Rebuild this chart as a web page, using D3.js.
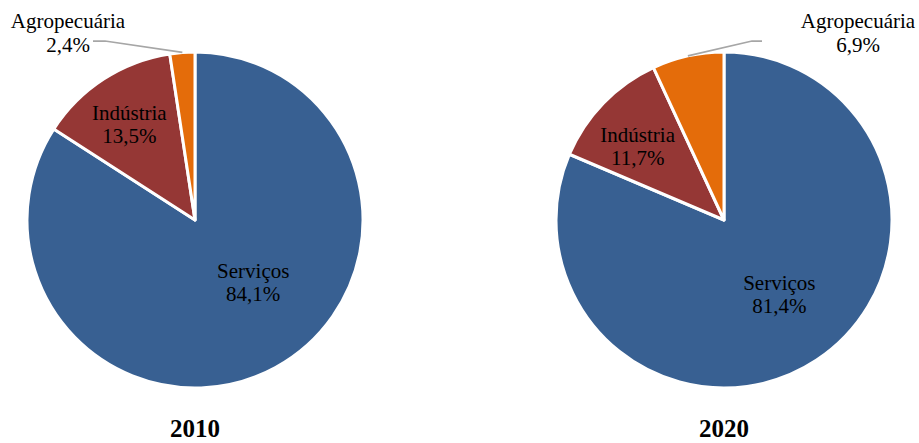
<!DOCTYPE html>
<html><head><meta charset="utf-8">
<script src="https://cdn.jsdelivr.net/npm/d3@7"></script>
<style>
html,body{margin:0;padding:0;background:#fff;}
svg{display:block;}
text{font-family:'Liberation Serif','Times New Roman',Times,'DejaVu Serif',serif;}
</style></head>
<body>
<svg id="chart" width="919" height="443"></svg>
<script>
const categories = ["Serviços", "Indústria", "Agropecuária"];
const values2010 = [84.1, 13.5, 2.4];
const values2020 = [81.4, 11.7, 6.9];
const years = ["2010", "2020"];
const colors = ["#386092", "#953735", "#E46C0A"];

const fmt = v => v.toFixed(1).replace(".", ",") + "%";
const FONT = "'Liberation Serif','Times New Roman',Times,'DejaVu Serif',serif";

const svg = d3.select("#chart");
const R = 168;

// layout config (label placement tweaks, not data)
const layouts = [
  {cx: 195, cy: 220, values: values2010, year: years[0],
   nudges: [[18, -11], [-20, -25]],
   outside: {elbow: [105, 41], end: [93, 41], text: [68, 28]}},
  {cx: 724, cy: 220, values: values2020, year: years[1],
   nudges: [[9, 5], [-26, -15]],
   outside: {elbow: [752, 41], end: [762, 41], text: [858, 28]}}
];

const pie = d3.pie().sort(null).value(d => d.value);
const arc = d3.arc().innerRadius(0).outerRadius(R);

layouts.forEach(L => {
  const data = categories.map((c, i) => ({cat: c, value: L.values[i], i}));
  const arcs = pie(data);
  const g = svg.append("g").attr("transform", `translate(${L.cx},${L.cy})`);

  g.selectAll("path.slice").data(arcs).enter().append("path")
    .attr("class", "slice")
    .attr("d", arc)
    .attr("fill", d => colors[d.data.i])
    .attr("stroke", "#fff")
    .attr("stroke-width", 3)
    .attr("stroke-linejoin", "round");

  // inside labels
  arcs.slice(0, 2).forEach((a, k) => {
    const c = arc.centroid(a);
    const x = c[0] + L.nudges[k][0], y = c[1] + L.nudges[k][1];
    const t = g.append("text").attr("text-anchor", "middle")
      .attr("font-family", FONT).attr("font-size", 21).attr("fill", "#000");
    t.append("tspan").attr("x", x).attr("y", y - 5).text(a.data.cat);
    t.append("tspan").attr("x", x).attr("y", y + 18).text(fmt(a.data.value));
  });

  // outside label with leader line
  const a = arcs[2];
  const mid = (a.startAngle + a.endAngle) / 2;
  const px = L.cx + Math.sin(mid) * R, py = L.cy - Math.cos(mid) * R;
  svg.append("polyline")
    .attr("points", [[px, py], L.outside.elbow, L.outside.end].map(p => p.join(",")).join(" "))
    .attr("fill", "none").attr("stroke", "#A6A6A6").attr("stroke-width", 1.75);
  const t = svg.append("text").attr("text-anchor", "middle")
    .attr("font-family", FONT).attr("font-size", 21).attr("fill", "#000");
  t.append("tspan").attr("x", L.outside.text[0]).attr("y", L.outside.text[1]).text(a.data.cat);
  t.append("tspan").attr("x", L.outside.text[0]).attr("y", L.outside.text[1] + 24).text(fmt(a.data.value));

  // year title
  svg.append("text").attr("x", L.cx).attr("y", 437)
    .attr("text-anchor", "middle").attr("font-family", FONT)
    .attr("font-size", 25).attr("font-weight", "bold")
    .text(L.year);
});
</script>
</body></html>
